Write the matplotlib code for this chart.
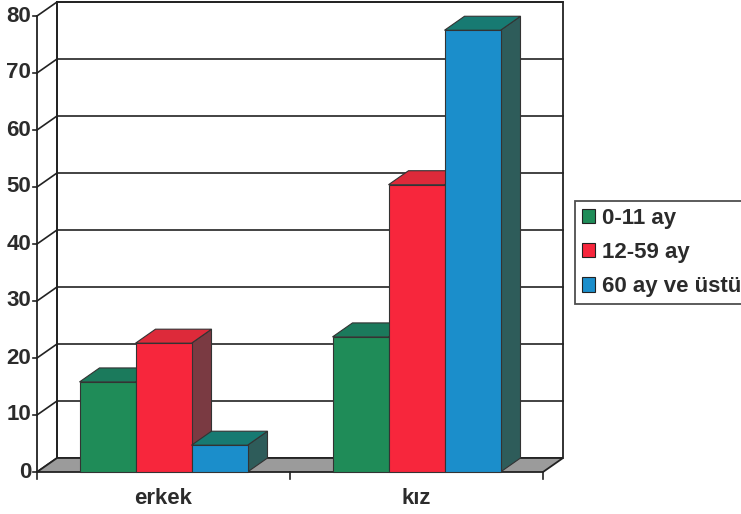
import matplotlib
matplotlib.use("Agg")
import matplotlib.pyplot as plt
from matplotlib.patches import Polygon, Patch

plt.rcParams['font.family'] = ['Liberation Sans', 'DejaVu Sans']
plt.rcParams['font.weight'] = 'bold'

# ---- data ----
categories = ["erkek", "kız"]
series_names = ["0-11 ay", "12-59 ay", "60 ay ve üstü"]
v_0_11 = [15.8, 23.7]
v_12_59 = [22.6, 50.4]
v_60plus = [4.7, 77.5]
yticks = [0, 10, 20, 30, 40, 50, 60, 70, 80]

series = [v_0_11, v_12_59, v_60plus]
front_cols = ["#1f8c58", "#f7263c", "#1b8ecb"]
top_cols = ["#1b7a5c", "#dd2a3a", "#177a72"]
side_cols = ["#1d6a50", "#7a3a42", "#2e5c5a"]

W, H = 741, 514
fig = plt.figure(figsize=(W / 100, H / 100), dpi=100)
ax = fig.add_axes([0, 0, 1, 1])

# pixel mapping of the reference
px_per_cat = 253.0
cx0 = 163.5
py0 = 472.0
px_per_unit = 5.7
ax.set_xlim(-cx0 / px_per_cat, (W - cx0) / px_per_cat)
ax.set_ylim((py0 - H) / px_per_unit, py0 / px_per_unit)
ax.axis("off")

DX = 20 / px_per_cat
DY = 14 / px_per_unit
x0, x1 = -0.5, len(categories) - 0.5
ymax = yticks[-1]
lc = "#222222"
fs = 16
tc = "#2b2b2b"

# back wall
ax.add_patch(Polygon([(x0 + DX, DY), (x1 + DX, DY), (x1 + DX, ymax + DY), (x0 + DX, ymax + DY)],
                     closed=True, facecolor="white", edgecolor=lc, lw=1.3, zorder=1))
# floor
ax.add_patch(Polygon([(x0, 0), (x1, 0), (x1 + DX, DY), (x0 + DX, DY)],
                     closed=True, facecolor="#9b9b9b", edgecolor=lc, lw=1.3, zorder=2))
# gridlines + left wall lines
for t in yticks:
    if t > 0:
        ax.plot([x0 + DX, x1 + DX], [t + DY, t + DY], color=lc, lw=1.2, zorder=1.5)
    ax.plot([x0, x0 + DX], [t, t + DY], color=lc, lw=1.2, zorder=1.5)
    ax.plot([x0 - 4 / px_per_cat, x0], [t, t], color=lc, lw=1.2, zorder=1.5)
    ax.text(x0 - 6 / px_per_cat, t, str(t), ha="right", va="center",
            fontsize=fs, fontweight="bold", color=tc)
ax.plot([x0, x0], [0, ymax], color=lc, lw=1.3, zorder=1.5)
ax.plot([x0 + DX, x0 + DX], [DY, ymax + DY], color=lc, lw=1.3, zorder=1.5)

# category ticks and labels
for xt in [x0, 0.5, x1]:
    ax.plot([xt, xt], [0, -7 / px_per_unit], color=lc, lw=1.2, zorder=2)
for i, c in enumerate(categories):
    ax.text(i, -(499 - py0) / px_per_unit, c, ha="center", va="center",
            fontsize=fs, fontweight="bold", color=tc)

# bars
bw = 56 / px_per_cat
for i in range(len(categories)):
    for s, vals in enumerate(series):
        v = vals[i]
        left = i + (s - 1.5) * bw
        right = left + bw
        z = 3 + s * 0.1
        ax.add_patch(Polygon([(right, 0), (right + DX, DY), (right + DX, v + DY), (right, v)],
                             closed=True, facecolor=side_cols[s], edgecolor="#333333", lw=0.8, zorder=z))
        ax.add_patch(Polygon([(left, v), (right, v), (right + DX, v + DY), (left + DX, v + DY)],
                             closed=True, facecolor=top_cols[s], edgecolor="#333333", lw=0.8, zorder=z))
        ax.bar(left, v, width=bw, align="edge", color=front_cols[s],
               edgecolor="#333333", lw=0.8, zorder=z + 0.05)

handles = [Patch(facecolor=front_cols[s], edgecolor="#222222", lw=0.8) for s in range(3)]
leg = fig.legend(handles, series_names, loc="upper left",
                 bbox_to_anchor=(575 / W, 1 - 201 / H), frameon=True, fancybox=False,
                 prop={"family": "Liberation Sans", "weight": "bold", "size": fs},
                 handlelength=0.6, handleheight=0.6, handletextpad=0.3,
                 labelspacing=0.6, borderpad=0.3, borderaxespad=0)
leg.get_frame().set_edgecolor("#222222")
leg.get_frame().set_linewidth(1.3)
for t in leg.get_texts():
    t.set_color(tc)

fig.savefig("out.png", dpi=100)
